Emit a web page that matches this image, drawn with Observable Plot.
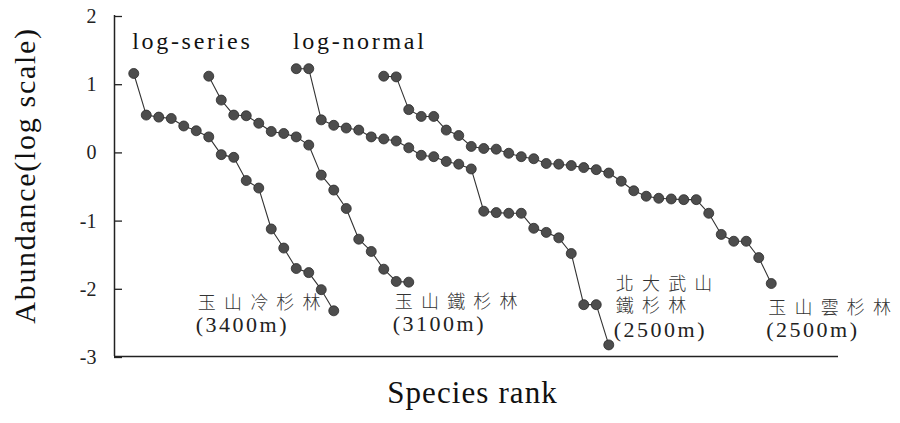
<!DOCTYPE html>
<html><head><meta charset="utf-8">
<script src="https://cdn.jsdelivr.net/npm/d3@7"></script>
<script src="https://cdn.jsdelivr.net/npm/@observablehq/plot@0.6"></script>
<style>
html,body{margin:0;padding:0;background:#fff;}
#chart{width:900px;height:423px;}
</style>
</head><body><div id="chart"></div>
<script>
// ---- data ----
const seriesNames = ["玉山冷杉林", "玉山鐵杉林", "北大武山鐵杉林", "玉山雲杉林"];
const labelLines = ["玉山冷杉林", "玉山鐵杉林", "北大武山\n鐵杉林", "玉山雲杉林"];
const elevations = ["(3400m)", "(3100m)", "(2500m)", "(2500m)"];
const startRanks = [1, 7, 14, 21];
const abundYushanFir = [1.15, 0.54, 0.51, 0.49, 0.38, 0.31, 0.22, -0.04, -0.08, -0.42, -0.53, -1.13, -1.41, -1.71, -1.77, -2.02, -2.33];
const abundYushanHemlock = [1.11, 0.76, 0.54, 0.53, 0.42, 0.30, 0.27, 0.22, 0.10, -0.34, -0.56, -0.83, -1.28, -1.46, -1.72, -1.90, -1.91];
const abundDawuHemlock = [1.22, 1.22, 0.47, 0.39, 0.35, 0.32, 0.22, 0.19, 0.16, 0.06, -0.05, -0.07, -0.14, -0.18, -0.25, -0.87, -0.89, -0.90, -0.90, -1.12, -1.18, -1.26, -1.49, -2.24, -2.24, -2.83];
const abundYushanSpruce = [1.11, 1.10, 0.62, 0.52, 0.52, 0.32, 0.24, 0.08, 0.05, 0.04, -0.02, -0.07, -0.10, -0.17, -0.18, -0.20, -0.23, -0.26, -0.31, -0.43, -0.57, -0.65, -0.68, -0.69, -0.70, -0.70, -0.90, -1.21, -1.31, -1.31, -1.55, -1.93];
const modelNames = ["log-series", "log-normal"];
const yTicks = [-3, -2, -1, 0, 1, 2];
const xTitle = "Species rank";
const yTitle = "Abundance(log scale)";

// ---- build table ----
const allAbund = [abundYushanFir, abundYushanHemlock, abundDawuHemlock, abundYushanSpruce];
const rows = [];
allAbund.forEach((vals, k) => vals.forEach((v, i) => rows.push({series: seriesNames[k], k, rank: startRanks[k] + i, abundance: v})));
const firstOf = k => rows.find(r => r.k === k);
const lastOf = k => rows.filter(r => r.k === k).at(-1);

const serif = "'Liberation Serif', 'Times New Roman', serif";
const cjk = "'Noto Sans CJK TC', 'Noto Sans CJK SC', sans-serif";
const xDomain = [-0.54, 57.38];

// label offsets (px) relative to last point of each series
const nameOffsets = [[-136, -2], [-14, 26], [7, -33], [-3, 30]];
const elevOffsets = [[-138, 21], [-16, 49], [5, -8], [-5, 53]];

const marks = [
  Plot.ruleX([xDomain[0]], {stroke: "#222", strokeWidth: 1.5}),
  Plot.ruleY([-3], {stroke: "#222", strokeWidth: 1.5}),
  Plot.axisY({ticks: yTicks, tickSize: -8, tickPadding: 26, tickFormat: d => String(d), label: null,
    fontSize: 20, fontFamily: serif, stroke: "#222", strokeWidth: 1.3, dy: 1}),
  Plot.line(rows, {x: "rank", y: "abundance", z: "series", stroke: "#333", strokeWidth: 1.1}),
  Plot.dot(rows, {x: "rank", y: "abundance", r: 5, fill: "#4d4d4d", stroke: "#2b2b2b", strokeWidth: 0.8}),
  Plot.text([firstOf(0)], {x: "rank", y: "abundance", text: () => modelNames[0], dx: -1.6, dy: -24.4,
    textAnchor: "start", lineAnchor: "bottom", fontSize: 24, fontFamily: serif, fill: "#111"}),
  Plot.text([firstOf(2)], {x: "rank", y: "abundance", text: () => modelNames[1], dx: -3.3, dy: -20,
    textAnchor: "start", lineAnchor: "bottom", fontSize: 24, fontFamily: serif, fill: "#111"}),
  Plot.text([xTitle], {frameAnchor: "bottom", dx: -4, dy: 46, textAnchor: "middle", lineAnchor: "bottom", fontSize: 31, fontFamily: serif, fill: "#111"}),
  Plot.text([yTitle], {frameAnchor: "left", dx: -89, dy: -10.5, rotate: -90, textAnchor: "middle", lineAnchor: "middle", fontSize: 30, fontFamily: serif, fill: "#111"})
];
for (let k = 0; k < 4; k++) {
  marks.push(Plot.text([lastOf(k)], {x: "rank", y: "abundance", text: () => labelLines[k],
    dx: nameOffsets[k][0], dy: nameOffsets[k][1], textAnchor: "start", lineAnchor: "bottom", lineHeight: 1.22,
    fontSize: 18, fontWeight: 300, fontFamily: cjk, fill: "#333"}));
  marks.push(Plot.text([lastOf(k)], {x: "rank", y: "abundance", text: () => elevations[k],
    dx: elevOffsets[k][0], dy: elevOffsets[k][1], textAnchor: "start", lineAnchor: "bottom",
    fontSize: 22, fontFamily: serif, fill: "#222"}));
}

const chart = Plot.plot({
  width: 900, height: 423,
  marginLeft: 114, marginRight: 62, marginTop: 15, marginBottom: 67,
  style: {background: "white", fontFamily: serif, color: "#222"},
  x: {domain: xDomain, axis: null},
  y: {domain: [-3, 2], axis: null},
  marks
});
// letter spacing by text content (the reference's type is set wide)
const spacingFor = new Map();
modelNames.forEach(s => spacingFor.set(s, 2.7));
spacingFor.set(xTitle, 1.1);
spacingFor.set(yTitle, 1.7);
labelLines.forEach(s => spacingFor.set(s.replace(/\n/g, ""), 8.2));
elevations.forEach(s => spacingFor.set(s, 2.5));
d3.select(chart).selectAll("text").each(function () {
  const v = spacingFor.get(this.textContent);
  if (v != null) this.style.letterSpacing = v + "px";
});
document.getElementById("chart").appendChild(chart);
</script>
</body></html>
